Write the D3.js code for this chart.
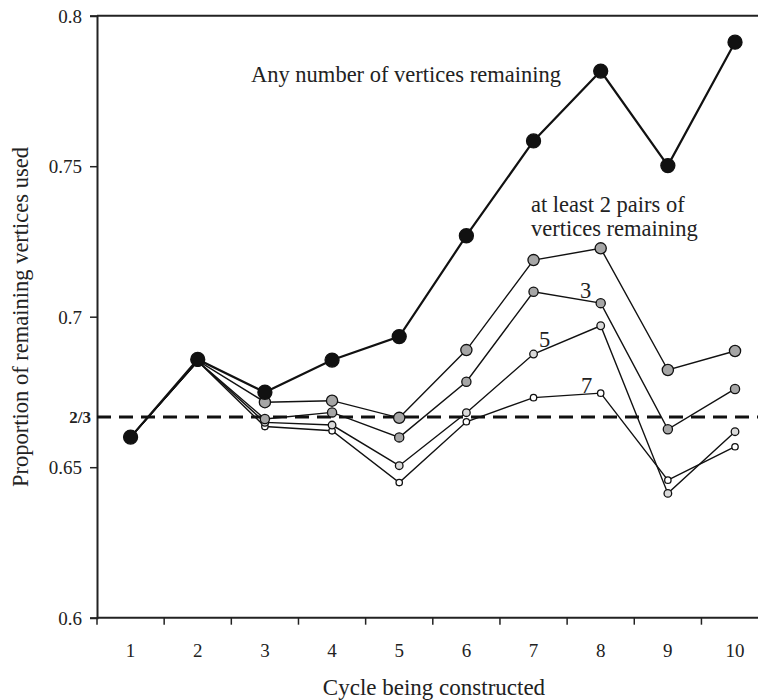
<!DOCTYPE html>
<html>
<head>
<meta charset="utf-8">
<script src="https://cdn.jsdelivr.net/npm/d3@7"></script>
<style>
  body { margin: 0; background: #fff; }
</style>
</head>
<body>
<div class="chart"></div>
<script>
// data
const cycles = [1, 2, 3, 4, 5, 6, 7, 8, 9, 10];
const anyRemaining = [0.660, 0.6858, 0.6749, 0.6856, 0.6934, 0.7269, 0.7584, 0.7816, 0.7502, 0.7912];
const atLeast2 = [0.660, 0.6854, 0.6716, 0.6721, 0.6664, 0.6889, 0.7188, 0.7227, 0.6823, 0.6886];
const atLeast3 = [0.660, 0.6852, 0.6660, 0.6682, 0.6599, 0.6784, 0.7083, 0.7045, 0.6626, 0.6760];
const atLeast5 = [0.660, 0.6852, 0.6649, 0.6640, 0.6505, 0.6681, 0.6876, 0.6970, 0.6413, 0.6618];
const atLeast7 = [0.660, 0.6852, 0.6635, 0.6621, 0.6449, 0.6651, 0.6731, 0.6746, 0.6457, 0.6568];
const yTicks = [0.6, 0.65, 0.7, 0.75, 0.8];
const twoThirds = 2 / 3;

const FONT = '"Liberation Serif"';

// set the dimensions and margins of the graph
const margin = { top: 15.7, left: 97 },
  bandW = 67.16,
  width = 758,
  height = 700,
  plotH = 602;

const svg = d3.select(".chart")
  .append("svg")
  .attr("width", width)
  .attr("height", height)
  .style("font-family", FONT);

const x = d3.scaleBand()
  .domain(cycles)
  .range([margin.left, margin.left + bandW * cycles.length]);

const y = d3.scaleLinear()
  .domain([0.6, 0.8])
  .range([margin.top + plotH, margin.top]);

// X axis (ticks on band edges, labels in the middle)
const xAxis = svg.append("g")
  .attr("transform", `translate(0, ${y(0.6)})`);
xAxis.append("line")
  .attr("x1", margin.left).attr("x2", x.range()[1])
  .attr("stroke", "#222").attr("stroke-width", 2);
xAxis.selectAll(".xtick")
  .data(cycles)
  .join("line")
  .attr("x1", d => x(d)).attr("x2", d => x(d))
  .attr("y1", 0).attr("y2", 7)
  .attr("stroke", "#222").attr("stroke-width", 1.5);
xAxis.selectAll(".xlab")
  .data(cycles)
  .join("text")
  .attr("x", d => x(d) + x.bandwidth() / 2)
  .attr("y", 39)
  .attr("text-anchor", "middle")
  .attr("fill", "#222")
  .style("font-family", FONT)
  .style("font-size", "19px")
  .text(d => d);

// Y axis
svg.append("g")
  .attr("transform", `translate(${margin.left}, 0)`)
  .call(d3.axisLeft(y).tickValues(yTicks).tickSize(7).tickPadding(8)
    .tickFormat(d => String(+d.toFixed(2))))
  .call(g => g.attr("font-family", null))
  .call(g => g.select(".domain").attr("stroke-width", 2).attr("stroke", "#222"))
  .call(g => g.selectAll(".tick line").attr("stroke-width", 1.5).attr("stroke", "#222"))
  .call(g => g.selectAll(".tick text")
    .attr("fill", "#222").attr("dy", "0.34em")
    .style("font-family", FONT).style("font-size", "19px"));

// top frame
svg.append("line")
  .attr("x1", margin.left).attr("x2", x.range()[1])
  .attr("y1", y(0.8)).attr("y2", y(0.8))
  .attr("stroke", "#222").attr("stroke-width", 2);

// 2/3 reference line
svg.append("line")
  .attr("x1", margin.left).attr("x2", x.range()[1])
  .attr("y1", y(twoThirds)).attr("y2", y(twoThirds))
  .attr("stroke", "#111").attr("stroke-width", 3)
  .attr("stroke-dasharray", "14,8");
svg.append("text")
  .attr("x", 91).attr("y", y(twoThirds))
  .attr("dy", "0.34em")
  .attr("text-anchor", "end")
  .attr("fill", "#222")
  .style("font-family", FONT)
  .style("font-size", "17px")
  .style("font-weight", "bold")
  .text("2/3");

// series, drawn bottom first so the black one sits on top
const series = [
  { values: atLeast7, r: 3.2, fill: "#fff", lw: 1.4 },
  { values: atLeast5, r: 3.8, fill: "#dadada", lw: 1.4 },
  { values: atLeast3, r: 4.6, fill: "#a6a6a6", lw: 1.4 },
  { values: atLeast2, r: 5.6, fill: "#a6a6a6", lw: 1.4 },
  { values: anyRemaining, r: 7, fill: "#111", lw: 2.2 }
];

const line = d3.line()
  .x((d, i) => x(cycles[i]) + x.bandwidth() / 2)
  .y(d => y(d));

series.forEach(s => {
  svg.append("path")
    .datum(s.values)
    .attr("fill", "none")
    .attr("stroke", "#111")
    .attr("stroke-width", s.lw)
    .attr("d", line);
});
series.forEach(s => {
  svg.append("g")
    .selectAll("circle")
    .data(s.values)
    .join("circle")
    .attr("cx", (d, i) => x(cycles[i]) + x.bandwidth() / 2)
    .attr("cy", d => y(d))
    .attr("r", s.r)
    .attr("fill", s.fill)
    .attr("stroke", "#111")
    .attr("stroke-width", 1.3);
});

// annotations
const notes = [
  { t: "Any number of vertices remaining", x: 251, y: 82 },
  { t: "at least 2 pairs of", x: 531, y: 212 },
  { t: "vertices remaining", x: 531, y: 236 },
  { t: "3", x: 580, y: 298 },
  { t: "5", x: 539, y: 347 },
  { t: "7", x: 581, y: 393 }
];
svg.selectAll(".note")
  .data(notes)
  .join("text")
  .attr("x", d => d.x)
  .attr("y", d => d.y)
  .attr("fill", "#222")
  .style("font-family", FONT)
  .style("font-size", "22.5px")
  .text(d => d.t);

// axis titles
svg.append("text")
  .attr("x", 434).attr("y", 695)
  .attr("text-anchor", "middle")
  .attr("fill", "#222")
  .style("font-family", FONT)
  .style("font-size", "23px")
  .text("Cycle being constructed");

svg.append("text")
  .attr("transform", "translate(28, 317) rotate(-90)")
  .attr("text-anchor", "middle")
  .attr("fill", "#222")
  .style("font-family", FONT)
  .style("font-size", "22.5px")
  .text("Proportion of remaining vertices used");
</script>
</body>
</html>
